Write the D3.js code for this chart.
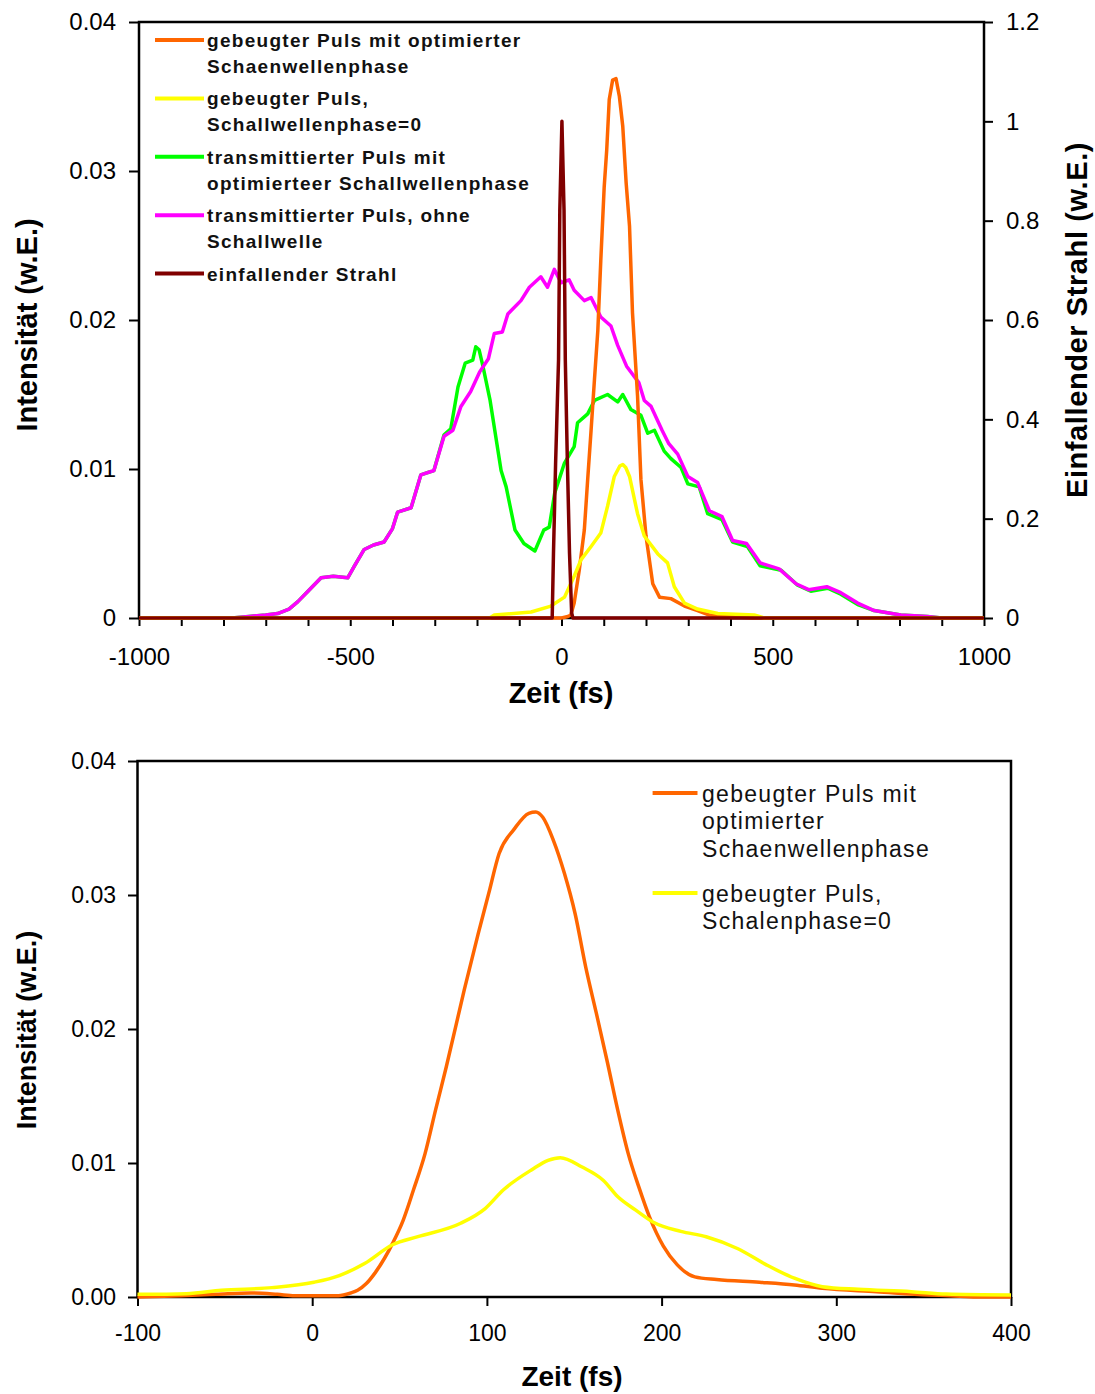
<!DOCTYPE html>
<html>
<head>
<meta charset="utf-8">
<script src="https://cdn.jsdelivr.net/npm/d3@7"></script>
<style>
  body { margin: 0; background: #fff; }
  svg { display: block; font-family: "Liberation Sans", Arial, sans-serif; }
</style>
</head>
<body>
<svg id="chart" width="1095" height="1394"></svg>
<script>
// ---------------- data ----------------
// top panel: time in fs, intensity in w.E. ; incident beam on right axis
var topOrange = [[-1000,0],[0,0],[15,0.0001],[22,0.0002],[30,0.001],[42,0.0032],[54,0.0059],[62,0.0093],[70,0.0126],[78,0.016],[86,0.0193],[93,0.024],[101,0.0289],[107,0.0314],[113,0.0348],[121,0.0361],[129,0.0362],[137,0.035],[145,0.033],[153,0.0292],[161,0.0263],[168,0.0205],[180,0.0149],[188,0.0093],[200,0.0055],[216,0.0023],[232,0.0014],[259,0.0013],[291,0.0008],[322,0.0005],[350,0.0002],[400,0.0001],[450,0],[1000,0]];
var topYellow = [[-1000,0],[-170,0],[-159,0.0002],[-72,0.0004],[-25,0.0008],[7,0.0014],[30,0.0028],[46,0.0039],[70,0.0048],[93,0.0057],[109,0.0075],[125,0.0095],[138,0.0102],[145,0.0103],[152,0.0101],[161,0.0095],[180,0.007],[196,0.0055],[228,0.0043],[251,0.0037],[267,0.0021],[291,0.001],[322,0.0006],[370,0.0003],[456,0.0002],[480,0],[1000,0]];
var topGreen = [[-1000,0],[-780,0],[-740,0.0001],[-700,0.0002],[-672,0.0003],[-645,0.0006],[-624,0.0011],[-600,0.0018],[-569,0.0027],[-540,0.0028],[-506,0.0027],[-490,0.0035],[-467,0.0046],[-445,0.0049],[-420,0.0051],[-400,0.006],[-388,0.0071],[-356,0.0074],[-333,0.0096],[-302,0.0099],[-278,0.0123],[-262,0.0127],[-245,0.0155],[-228,0.0171],[-210,0.0173],[-203,0.0182],[-195,0.018],[-186,0.0169],[-169,0.0146],[-143,0.0099],[-131,0.0088],[-110,0.0059],[-89,0.005],[-63,0.0045],[-42,0.0059],[-29,0.0061],[-16,0.0084],[7,0.0104],[30,0.0115],[38,0.0131],[62,0.0137],[78,0.0146],[109,0.015],[133,0.0145],[145,0.015],[164,0.014],[188,0.0136],[204,0.0124],[220,0.0126],[243,0.0112],[259,0.0107],[283,0.0101],[299,0.009],[326,0.0088],[346,0.007],[380,0.0066],[405,0.0051],[440,0.0048],[470,0.0035],[520,0.0032],[559,0.0022],[590,0.0018],[630,0.002],[661,0.0016],[701,0.0009],[740,0.0005],[803,0.0002],[866,0.0001],[900,0],[1000,0]];
var topMagenta = [[-1000,0],[-780,0],[-740,0.0001],[-700,0.0002],[-672,0.0003],[-645,0.0006],[-624,0.0011],[-600,0.0018],[-569,0.0027],[-540,0.0028],[-506,0.0027],[-490,0.0035],[-467,0.0046],[-445,0.0049],[-420,0.0051],[-400,0.006],[-388,0.0071],[-356,0.0074],[-333,0.0096],[-302,0.0099],[-278,0.0122],[-257,0.0126],[-238,0.0142],[-215,0.0152],[-194,0.0165],[-173,0.0174],[-159,0.0191],[-140,0.0192],[-127,0.0204],[-96,0.0213],[-76,0.0222],[-49,0.0229],[-33,0.0222],[-17,0.0234],[-1,0.0225],[18,0.0227],[30,0.022],[54,0.0213],[70,0.0215],[93,0.0202],[117,0.0196],[133,0.0183],[154,0.0169],[183,0.0158],[196,0.0146],[212,0.0142],[238,0.0126],[254,0.0117],[275,0.011],[299,0.0095],[322,0.0091],[350,0.0072],[380,0.0068],[405,0.0052],[438,0.005],[470,0.0037],[515,0.0033],[555,0.0023],[585,0.0019],[628,0.0021],[661,0.0017],[701,0.001],[740,0.0005],[803,0.0002],[866,0.0001],[900,0],[1000,0]];
var topDarkRed = [[-1000,0],[-22,0],[-19,0.13],[-14,0.31],[-7,0.52],[-4,0.82],[1,1.0],[6,0.82],[9,0.52],[14,0.31],[19,0.13],[24,0.01],[27,0],[1000,0]];

// bottom panel (zoom on the diffracted pulses)
var botOrange = [[-100,0],[-75,0.0001],[-55,0.0002],[-35,0.0003],[-20,0.0002],[-10,0.0001],[15,0.0001],[22,0.0003],[26,0.0005],[31,0.001],[36,0.0018],[46,0.004],[52,0.0057],[58,0.008],[64.6,0.0107],[70.7,0.014],[76.8,0.0172],[87,0.0229],[95,0.0271],[101,0.0301],[107,0.0331],[115.5,0.0349],[124,0.0361],[128,0.0362],[132,0.0358],[138,0.0341],[144.4,0.0316],[150.5,0.0286],[156.6,0.0246],[162.6,0.0212],[169,0.0175],[174.8,0.014],[180.9,0.0107],[187,0.0082],[193,0.006],[201,0.0038],[209,0.0024],[219,0.0015],[231.5,0.0013],[256,0.0011],[276,0.0009],[292,0.00065],[323,0.0004],[353,0.00015],[365,0.0001],[380,0],[400,0]];
var botYellow = [[-100,0.0002],[-72,0.00025],[-52,0.0005],[-23,0.0007],[1,0.0011],[15.5,0.0016],[30,0.0025],[46,0.0039],[60.5,0.0045],[85,0.0055],[99,0.0066],[109.5,0.008],[125.7,0.0095],[135,0.0102],[142,0.0104],[154.5,0.0097],[166.7,0.0087],[174.8,0.0075],[185,0.0065],[195,0.0056],[211,0.0049],[225.5,0.0045],[243.7,0.0036],[260,0.0024],[276,0.0014],[292,0.00077],[312.6,0.00057],[343,0.0004],[363,0.00022],[400,0.00015]];

// ticks
var xTicksTop = d3.range(-1000, 1001, 100);
var yTicksTop = [0, 0.01, 0.02, 0.03, 0.04];
var yTicksTopR = [0, 0.2, 0.4, 0.6, 0.8, 1, 1.2];
var xTicksBot = [-100, 0, 100, 200, 300, 400];
var yTicksBot = [0, 0.01, 0.02, 0.03, 0.04];

// legends
var legendTop = [
  ['gebeugter Puls mit optimierter', 'Schaenwellenphase'],
  ['gebeugter Puls,', 'Schallwellenphase=0'],
  ['transmittierter Puls mit', 'optimierteer Schallwellenphase'],
  ['transmittierter Puls, ohne', 'Schallwelle'],
  ['einfallender Strahl']
];
var legendBot = [
  ['gebeugter Puls mit', 'optimierter', 'Schaenwellenphase'],
  ['gebeugter Puls,', 'Schalenphase=0']
];

var ORANGE = '#ff6600', YELLOW = '#ffff00', GREEN = '#00ff00', MAGENTA = '#ff00ff', DARKRED = '#800000';

var svg = d3.select('#chart');

// styles an axis group made by d3 so it looks like the Excel one
function styleAxis(g, fontSize) {
  g.select('.domain').remove();
  g.attr('font-family', null).attr('font-size', fontSize);
  g.selectAll('.tick line').attr('stroke', '#000').attr('stroke-width', 2);
  g.selectAll('.tick text').attr('fill', '#000');
}

function drawSeries(g, data, x, y, color, width, curve) {
  var line = d3.line()
    .x(function (d) { return x(d[0]); })
    .y(function (d) { return y(d[1]); })
    .curve(curve || d3.curveLinear);
  g.append('path')
    .datum(data)
    .attr('d', line)
    .attr('fill', 'none')
    .attr('stroke', color)
    .attr('stroke-width', width)
    .attr('stroke-linejoin', 'round');
}

//------------------------------ top panel ------------------------------//
var pt = { left: 139, right: 984, top: 22, bottom: 618 };
var xTop = d3.scaleLinear().domain([-1000, 1000]).range([pt.left, pt.right]);
var yTop = d3.scaleLinear().domain([0, 0.04]).range([pt.bottom, pt.top]);
var yTopR = d3.scaleLinear().domain([0, 1.2]).range([pt.bottom, pt.top]);

svg.append('rect')
  .attr('x', pt.left).attr('y', pt.top)
  .attr('width', pt.right - pt.left).attr('height', pt.bottom - pt.top)
  .attr('fill', 'none').attr('stroke', '#000').attr('stroke-width', 2.5);

svg.append('g')
  .attr('transform', 'translate(0,' + pt.bottom + ')')
  .call(d3.axisBottom(xTop).tickValues(xTicksTop).tickSize(8).tickPadding(22)
    .tickFormat(function (d) { return d % 500 === 0 ? String(d) : ''; }))
  .call(styleAxis, 24);

svg.append('g')
  .attr('transform', 'translate(' + pt.left + ',0)')
  .call(d3.axisLeft(yTop).tickValues(yTicksTop).tickSize(10).tickPadding(13)
    .tickFormat(function (d) { return String(d); }))
  .call(styleAxis, 24);

svg.append('g')
  .attr('transform', 'translate(' + pt.right + ',0)')
  .call(d3.axisRight(yTopR).tickValues(yTicksTopR).tickSize(9).tickPadding(13)
    .tickFormat(function (d) { return String(+d.toFixed(1)); }))
  .call(styleAxis, 24);

var gTop = svg.append('g');
drawSeries(gTop, topGreen, xTop, yTop, GREEN, 3.5);
drawSeries(gTop, topMagenta, xTop, yTop, MAGENTA, 3.5);
drawSeries(gTop, topOrange, xTop, yTop, ORANGE, 3.5);
drawSeries(gTop, topYellow, xTop, yTop, YELLOW, 3.5);
drawSeries(gTop, topDarkRed, xTop, yTopR, DARKRED, 3.5);

// legend (top)
var topColors = [ORANGE, YELLOW, GREEN, MAGENTA, DARKRED];
legendTop.forEach(function (lines, i) {
  var cy = 40 + i * 58.4;
  svg.append('line')
    .attr('x1', 155).attr('x2', 204).attr('y1', cy).attr('y2', cy)
    .attr('stroke', topColors[i]).attr('stroke-width', 4);
  var t = svg.append('text')
    .attr('x', 207).attr('y', cy + 7)
    .attr('font-size', 19).attr('font-weight', 'bold')
    .attr('letter-spacing', '1.3px').attr('fill', '#111');
  lines.forEach(function (s, k) {
    t.append('tspan').attr('x', 207).attr('dy', k === 0 ? 0 : 26).text(s);
  });
});

// axis titles (top)
svg.append('text')
  .attr('x', 561).attr('y', 703).attr('text-anchor', 'middle')
  .attr('font-size', 29).attr('font-weight', 'bold').text('Zeit (fs)');
svg.append('text')
  .attr('transform', 'translate(37,325) rotate(-90)').attr('text-anchor', 'middle')
  .attr('font-size', 29).attr('font-weight', 'bold').text('Intensität (w.E.)');
svg.append('text')
  .attr('transform', 'translate(1087,320) rotate(-90)').attr('text-anchor', 'middle')
  .attr('font-size', 29).attr('font-weight', 'bold').attr('letter-spacing', '0.6px')
  .text('Einfallender Strahl (w.E.)');

//------------------------------ bottom panel ------------------------------//
var pb = { left: 137.5, right: 1011, top: 761, bottom: 1297 };
var xBot = d3.scaleLinear().domain([-100, 400]).range([pb.left, pb.right]);
var yBot = d3.scaleLinear().domain([0, 0.04]).range([pb.bottom, pb.top]);

svg.append('rect')
  .attr('x', pb.left).attr('y', pb.top)
  .attr('width', pb.right - pb.left).attr('height', pb.bottom - pb.top)
  .attr('fill', 'none').attr('stroke', '#000').attr('stroke-width', 2.5);

svg.append('g')
  .attr('transform', 'translate(0,' + pb.bottom + ')')
  .call(d3.axisBottom(xBot).tickValues(xTicksBot).tickSize(9).tickPadding(19)
    .tickFormat(function (d) { return String(d); }))
  .call(styleAxis, 23);

svg.append('g')
  .attr('transform', 'translate(' + pb.left + ',0)')
  .call(d3.axisLeft(yBot).tickValues(yTicksBot).tickSize(9.5).tickPadding(12)
    .tickFormat(d3.format('.2f')))
  .call(styleAxis, 23);

var gBot = svg.append('g');
drawSeries(gBot, botOrange, xBot, yBot, ORANGE, 3.5, d3.curveMonotoneX);
drawSeries(gBot, botYellow, xBot, yBot, YELLOW, 3.5, d3.curveMonotoneX);

// legend (bottom)
var botColors = [ORANGE, YELLOW];
legendBot.forEach(function (lines, i) {
  var cy = 793 + i * 100;
  svg.append('line')
    .attr('x1', 652.6).attr('x2', 697.5).attr('y1', cy).attr('y2', cy)
    .attr('stroke', botColors[i]).attr('stroke-width', 4);
  var t = svg.append('text')
    .attr('x', 702).attr('y', cy + 8.7)
    .attr('font-size', 23).attr('letter-spacing', '1.3px').attr('fill', '#111');
  lines.forEach(function (s, k) {
    t.append('tspan').attr('x', 702).attr('dy', k === 0 ? 0 : 27.7).text(s);
  });
});

// axis titles (bottom)
svg.append('text')
  .attr('x', 572).attr('y', 1386).attr('text-anchor', 'middle')
  .attr('font-size', 28).attr('font-weight', 'bold').text('Zeit (fs)');
svg.append('text')
  .attr('transform', 'translate(36,1030) rotate(-90)').attr('text-anchor', 'middle')
  .attr('font-size', 27).attr('font-weight', 'bold').text('Intensität (w.E.)');
</script>
</body>
</html>
